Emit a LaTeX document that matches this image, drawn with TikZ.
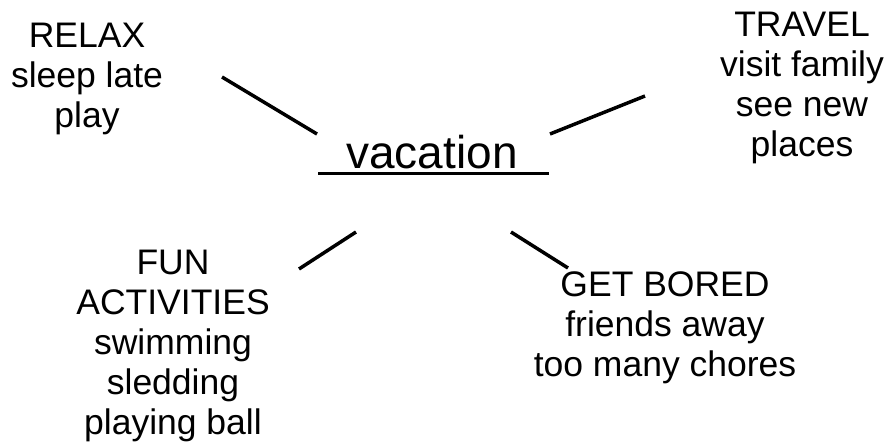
\documentclass[tikz,border=0pt]{standalone}
\usepackage{fontspec}
\setmainfont{Liberation Sans}
\begin{document}
\begin{tikzpicture}[x=1pt,y=-1pt,
  lbl/.style={inner sep=0pt,align=center,anchor=north,font=\fontsize{35.5}{40}\selectfont},
  conn/.style={line width=3.5pt,line cap=butt}]
\useasboundingbox (0,0) rectangle (886,444);
% texts
\node[inner sep=0pt,anchor=base,font=\fontsize{46}{50}\selectfont] (vac) at (432,168) {vacation};
\node[lbl] (relax) at (87,23) {RELAX\\sleep late\\play};
\node[lbl] (travel) at (802,12) {TRAVEL\\visit family\\see new\\places};
\node[lbl] (fun) at (173,250) {FUN\\ACTIVITIES\\swimming\\sledding\\playing ball};
\node[lbl] (bored) at (665,272) {GET BORED\\friends away\\too many chores};
% connector end points
\coordinate (ul1) at (318,173); \coordinate (ul2) at (549,173);
\coordinate (a1) at (222,77); \coordinate (a2) at (317,134);
\coordinate (b1) at (550,134); \coordinate (b2) at (645,96);
\coordinate (c1) at (299,269); \coordinate (c2) at (356,232);
\coordinate (d1) at (511,232); \coordinate (d2) at (568,268);
\draw[line width=3pt] (ul1) -- (ul2);
\draw[conn] (a1) -- (a2);
\draw[conn] (b1) -- (b2);
\draw[conn] (c1) -- (c2);
\draw[conn] (d1) -- (d2);
\end{tikzpicture}
\end{document}
